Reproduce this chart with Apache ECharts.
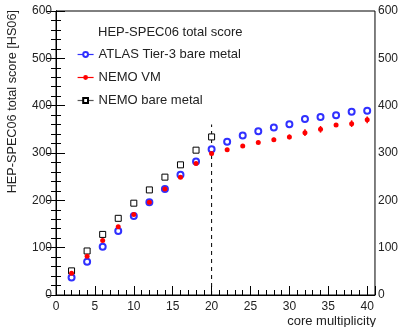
<!DOCTYPE html>
<html>
<head>
<meta charset="utf-8">
<script src="https://cdn.jsdelivr.net/npm/echarts@6/dist/echarts.min.js"></script>
<style>
  html, body { margin: 0; padding: 0; background: #fff; }
  #chart { width: 401px; height: 327px; }
</style>
</head>
<body>
<div id="chart"></div>
<script>
// core multiplicity
const atlasCores = [2, 4, 6, 8, 10, 12, 14, 16, 18, 20, 22, 24, 26, 28, 30, 32, 34, 36, 38, 40];
const atlasScore = [37, 70, 102, 135, 167, 196, 224, 254, 282, 308, 324, 337, 346, 354, 361, 372, 376, 380, 387, 389];

const vmCores = [2, 4, 6, 8, 10, 12, 14, 16, 18, 20, 22, 24, 26, 28, 30, 32, 34, 36, 38, 40];
const vmScore = [46, 82, 115, 144, 170, 196, 224, 249, 278, 299, 307, 315, 322, 328, 334, 343, 350, 359, 362, 370];
const vmError = [1, 1, 1, 2, 2, 2, 2, 2, 3, 4, 2, 3, 3, 4, 5, 7, 7, 4, 7, 7];

const bareCores = [2, 4, 6, 8, 10, 12, 14, 16, 18, 20];
const bareScore = [51, 93, 128, 162, 194, 222, 249, 275, 306, 334];

const dividerX = 20;
const dividerTop = 360;

const font = 'Liberation Sans, Arial, sans-serif';
const ink = '#222';

const chart = echarts.init(document.getElementById('chart'));

const pairs = (xs, ys) => xs.map((x, i) => [x, ys[i]]);

chart.setOption({
    animation: false,
    grid: {
        left: 56, right: 25, top: 11, bottom: 32,
        show: true, borderColor: '#000', borderWidth: 1
    },
    title: {
        text: 'HEP-SPEC06 total score',
        left: 98, top: 26, padding: 0,
        textStyle: { fontFamily: font, fontSize: 13, fontWeight: 'normal', color: ink }
    },
    legend: {
        orient: 'vertical',
        left: 77, top: 48, padding: 0,
        itemWidth: 16, itemHeight: 6, itemGap: 10,
        textStyle: { fontFamily: font, fontSize: 13, color: ink },
        data: [
            { name: 'ATLAS Tier-3 bare metal', lineStyle: { opacity: 1, width: 1.2, color: '#3030ff' } },
            { name: 'NEMO VM', lineStyle: { opacity: 1, width: 1.2, color: '#ff0000' } },
            { name: 'NEMO bare metal', lineStyle: { opacity: 1, width: 1.2, color: '#555' } }
        ]
    },
    xAxis: [{
        type: 'value', position: 'bottom', min: 0, max: 41, interval: 1,
        axisLine: { lineStyle: { color: '#000', width: 1 } },
        axisTick: { inside: true, length: 5, lineStyle: { color: '#000' } },
        axisLabel: { show: false },
        splitLine: { show: false }
    }, {
        type: 'value', position: 'bottom', min: 0, max: 41, interval: 5,
        axisLine: { show: false },
        axisTick: { inside: true, length: 9, lineStyle: { color: '#000' } },
        axisLabel: {
            fontFamily: font, fontSize: 12, color: ink, margin: 6,
            formatter: v => (v % 5 === 0 ? String(v) : '')
        },
        splitLine: { show: false }
    }],
    yAxis: [{
        type: 'value', position: 'left', min: 0, max: 600, interval: 100,
        axisLine: { show: true, lineStyle: { color: '#000', width: 1 } },
        axisTick: { inside: true, length: 9, lineStyle: { color: '#000' } },
        minorTick: { show: true, splitNumber: 5, length: 5, lineStyle: { color: '#000' } },
        axisLabel: { fontFamily: font, fontSize: 12, color: ink, margin: 4 },
        splitLine: { show: false }
    }, {
        type: 'value', position: 'right', min: 0, max: 600, interval: 100,
        axisLine: { show: true, lineStyle: { color: '#000', width: 1 } },
        axisTick: { inside: true, length: 9, lineStyle: { color: '#000' } },
        minorTick: { show: true, splitNumber: 5, length: 5, lineStyle: { color: '#000' } },
        axisLabel: { fontFamily: font, fontSize: 12, color: ink, margin: 3 },
        splitLine: { show: false }
    }],
    graphic: [{
        type: 'text', left: 6, top: 10, rotation: Math.PI / 2,
        style: { text: 'HEP-SPEC06 total score [HS06]', font: '12.7px ' + font, fill: ink }
    }, {
        type: 'text', right: 25, top: 315,
        style: { text: 'core multiplicity', font: '13px ' + font, fill: ink }
    }],
    series: [{
        type: 'line',
        name: 'divider',
        data: [[dividerX, 0], [dividerX, dividerTop]],
        symbol: 'none',
        lineStyle: { color: '#000', width: 1, type: [4, 4] },
        silent: true
    }, {
        type: 'custom',
        name: 'vmErr',
        data: vmCores.map((x, i) => [x, vmScore[i], vmError[i]]),
        renderItem: (params, api) => {
            const lo = api.coord([api.value(0), api.value(1) - api.value(2)]);
            const hi = api.coord([api.value(0), api.value(1) + api.value(2)]);
            return {
                type: 'line',
                shape: { x1: lo[0], y1: lo[1], x2: hi[0], y2: hi[1] },
                style: { stroke: '#ff0000', lineWidth: 1.5 }
            };
        },
        z: 3
    }, {
        type: 'line',
        name: 'NEMO bare metal',
        data: pairs(bareCores, bareScore),
        symbol: 'rect', symbolSize: 6,
        itemStyle: { color: '#fff', borderColor: '#000', borderWidth: 1 },
        lineStyle: { opacity: 0 },
        z: 4
    }, {
        type: 'line',
        name: 'ATLAS Tier-3 bare metal',
        data: pairs(atlasCores, atlasScore),
        symbol: 'emptyCircle', symbolSize: 6,
        itemStyle: { color: '#3030ff', borderWidth: 0.9 },
        lineStyle: { opacity: 0 },
        z: 4
    }, {
        type: 'line',
        name: 'NEMO VM',
        data: pairs(vmCores, vmScore),
        symbol: 'circle', symbolSize: 5,
        itemStyle: { color: '#ff0000' },
        lineStyle: { opacity: 0 },
        z: 5
    }]
});
</script>
</body>
</html>
